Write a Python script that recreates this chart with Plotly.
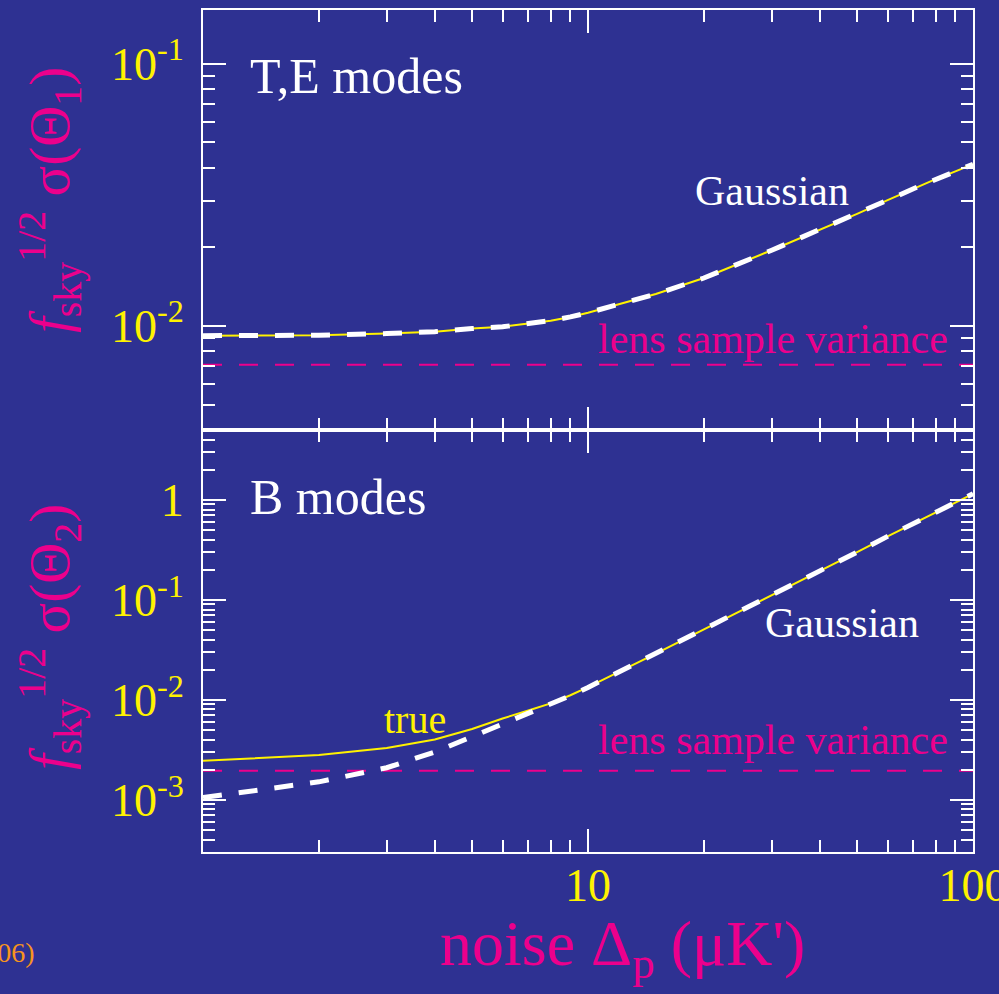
import plotly.graph_objects as go
import numpy as np

# ---------------- data ----------------
noise = [1, 2, 3, 4, 5, 6, 7, 8, 9, 10, 15, 20, 30, 40, 50, 60, 70, 80, 90, 100]

te_gauss = [0.00916, 0.00919, 0.00933, 0.00949, 0.00975, 0.0099, 0.0102, 0.01045, 0.0108, 0.0112,
            0.0132, 0.0152, 0.0194, 0.0232, 0.0267, 0.0301, 0.0333, 0.0362, 0.0388, 0.0413]
te_true = [0.00916, 0.00919, 0.00933, 0.00949, 0.00975, 0.0099, 0.0102, 0.01045, 0.0108, 0.0112,
           0.0132, 0.0152, 0.0194, 0.0232, 0.0267, 0.0301, 0.0333, 0.0362, 0.0388, 0.0413]

b_gauss = [0.00105, 0.00151, 0.00209, 0.0030, 0.00427, 0.0057, 0.0073, 0.0090, 0.0110, 0.0133,
           0.029, 0.0507, 0.110, 0.192, 0.300, 0.431, 0.583, 0.752, 0.937, 1.15]
b_true = [0.00245, 0.0028, 0.0033, 0.0040, 0.0051, 0.0065, 0.0078, 0.0092, 0.0111, 0.0134,
          0.029, 0.0507, 0.110, 0.192, 0.300, 0.431, 0.583, 0.752, 0.937, 1.15]

lens_te = 0.0071
lens_b = 0.00195

te_major = [0.01, 0.1]
te_major_text = ["10<sup>-2</sup>", "10<sup>-1</sup>"]
b_major = [0.001, 0.01, 0.1, 1]
b_major_text = ["10<sup>-3</sup>", "10<sup>-2</sup>", "10<sup>-1</sup>", "1"]
x_major = [1, 10, 100]
x_major_text = ["", "10", "100"]

# ---------------- style ----------------
BG = "#2e3192"
YEL = "#fff200"
PINK = "#ec008c"
WHITE = "#ffffff"
ORANGE = "#f7941d"
FONT = "Liberation Serif"

W, H = 999, 994
ML, MR, MT, MB = 203, 26, 10, 142
PW, PH = W - ML - MR, H - MT - MB
split = (852 - 430) / PH

def minor_vals(lo, hi):
    out = []
    for d in range(-5, 3):
        for m in range(2, 10):
            v = m * 10.0 ** d
            if lo <= v <= hi:
                out.append(v)
    return out

fig = go.Figure()

DASH = "19px,17px"

# top panel (x, y) ; bottom panel (x2, y2)
fig.add_trace(go.Scatter(x=noise, y=[lens_te for _ in noise], mode="lines",
                         line=dict(color=PINK, width=2, dash=DASH),
                         xaxis="x", yaxis="y", showlegend=False))
fig.add_trace(go.Scatter(x=noise, y=te_true, mode="lines", line=dict(color=YEL, width=2),
                         xaxis="x", yaxis="y", showlegend=False))
fig.add_trace(go.Scatter(x=noise, y=te_gauss, mode="lines", line=dict(color=WHITE, width=5, dash=DASH),
                         xaxis="x", yaxis="y", showlegend=False))

fig.add_trace(go.Scatter(x=noise, y=[lens_b for _ in noise], mode="lines",
                         line=dict(color=PINK, width=2, dash=DASH),
                         xaxis="x2", yaxis="y2", showlegend=False))
fig.add_trace(go.Scatter(x=noise, y=b_true, mode="lines", line=dict(color=YEL, width=2),
                         xaxis="x2", yaxis="y2", showlegend=False))
fig.add_trace(go.Scatter(x=noise, y=b_gauss, mode="lines", line=dict(color=WHITE, width=5, dash=DASH),
                         xaxis="x2", yaxis="y2", showlegend=False))

common_axis = dict(showgrid=False, zeroline=False, showline=True, linecolor=WHITE, linewidth=2,
                   ticks="inside", tickcolor=WHITE, tickwidth=2, mirror="allticks",
                   automargin=False)

minor_style = dict(ticks="inside", ticklen=12, tickcolor=WHITE, tickwidth=2)

te_lo, te_hi = 0.004, 0.16
b_lo, b_hi = 3e-4, 5

fig.update_layout(
    width=W, height=H,
    margin=dict(l=ML, r=MR, t=MT, b=MB),
    paper_bgcolor=BG, plot_bgcolor=BG,
    font=dict(family=FONT, color=WHITE),
    xaxis=dict(type="log", range=[0, 2], domain=[0, 1], anchor="y",
               tickvals=x_major, ticktext=x_major_text, ticklen=23, showticklabels=False,
               minor=dict(tickvals=minor_vals(1, 100), **minor_style),
               **common_axis),
    yaxis=dict(type="log", range=[np.log10(te_lo), np.log10(te_hi)], domain=[split, 1], anchor="x",
               tickvals=te_major, ticktext=te_major_text, ticklen=23,
               tickfont=dict(family=FONT, size=46, color=YEL), ticklabelstandoff=8,
               minor=dict(tickvals=minor_vals(te_lo, te_hi), **minor_style),
               **common_axis),
    xaxis2=dict(type="log", range=[0, 2], domain=[0, 1], anchor="y2",
                tickvals=x_major, ticktext=x_major_text, ticklen=23,
                tickfont=dict(family=FONT, size=46, color=YEL), ticklabelstandoff=-8,
                ticklabeloverflow="allow",
                minor=dict(tickvals=minor_vals(1, 100), **minor_style),
                **common_axis),
    yaxis2=dict(type="log", range=[np.log10(b_lo), np.log10(b_hi)], domain=[0, split], anchor="x2",
                tickvals=b_major, ticktext=b_major_text, ticklen=23,
                tickfont=dict(family=FONT, size=46, color=YEL), ticklabelstandoff=8,
                minor=dict(tickvals=minor_vals(b_lo, b_hi), **minor_style),
                **common_axis),
)

def px_to_paper_x(px):
    return (px - ML) / PW

def px_to_paper_y(py):
    return (H - MB - py) / PH

ann = []
# panel labels
ann.append(dict(x=np.log10(1.31), y=-1.049, xref="x", yref="y", text="T,E modes", showarrow=False,
                xanchor="left", yanchor="middle", font=dict(family=FONT, size=50, color=WHITE)))
ann.append(dict(x=np.log10(1.31), y=0.03, xref="x2", yref="y2", text="B modes", showarrow=False,
                xanchor="left", yanchor="middle", font=dict(family=FONT, size=50, color=WHITE)))
# curve labels
ann.append(dict(x=1.478, y=-1.487, xref="x", yref="y", text="Gaussian", showarrow=False,
                xanchor="center", yanchor="middle", font=dict(family=FONT, size=42, color=WHITE)))
ann.append(dict(x=1.66, y=-1.23, xref="x2", yref="y2", text="Gaussian", showarrow=False,
                xanchor="center", yanchor="middle", font=dict(family=FONT, size=42, color=WHITE)))
ann.append(dict(x=1.481, y=-2.05, xref="x", yref="y", text="lens sample variance", showarrow=False,
                xanchor="center", yanchor="middle", font=dict(family=FONT, size=42, color=PINK)))
ann.append(dict(x=1.481, y=-2.40, xref="x2", yref="y2", text="lens sample variance", showarrow=False,
                xanchor="center", yanchor="middle", font=dict(family=FONT, size=42, color=PINK)))
ann.append(dict(x=0.551, y=-2.20, xref="x2", yref="y2", text="true", showarrow=False,
                xanchor="center", yanchor="middle", font=dict(family=FONT, size=40, color=YEL)))
# axis titles
ann.append(dict(x=px_to_paper_x(50), y=px_to_paper_y(200), xref="paper", yref="paper",
                text="<i>f</i><sub>sky</sub><sup>1/2</sup> σ(Θ<sub>1</sub>)", textangle=-90,
                showarrow=False, xanchor="center", yanchor="middle",
                font=dict(family=FONT, size=57, color=PINK)))
ann.append(dict(x=px_to_paper_x(50), y=px_to_paper_y(637), xref="paper", yref="paper",
                text="<i>f</i><sub>sky</sub><sup>1/2</sup> σ(Θ<sub>2</sub>)", textangle=-90,
                showarrow=False, xanchor="center", yanchor="middle",
                font=dict(family=FONT, size=57, color=PINK)))
ann.append(dict(x=px_to_paper_x(622), y=px_to_paper_y(948), xref="paper", yref="paper",
                text="noise Δ<sub>p</sub> (μK')", showarrow=False, xanchor="center", yanchor="middle",
                font=dict(family=FONT, size=64, color=PINK)))
ann.append(dict(x=px_to_paper_x(37), y=px_to_paper_y(952), xref="paper", yref="paper",
                text="(2006)", showarrow=False, xanchor="right", yanchor="middle",
                font=dict(family=FONT, size=28, color=ORANGE)))
fig.update_layout(annotations=ann)

fig.write_html("out.html")
